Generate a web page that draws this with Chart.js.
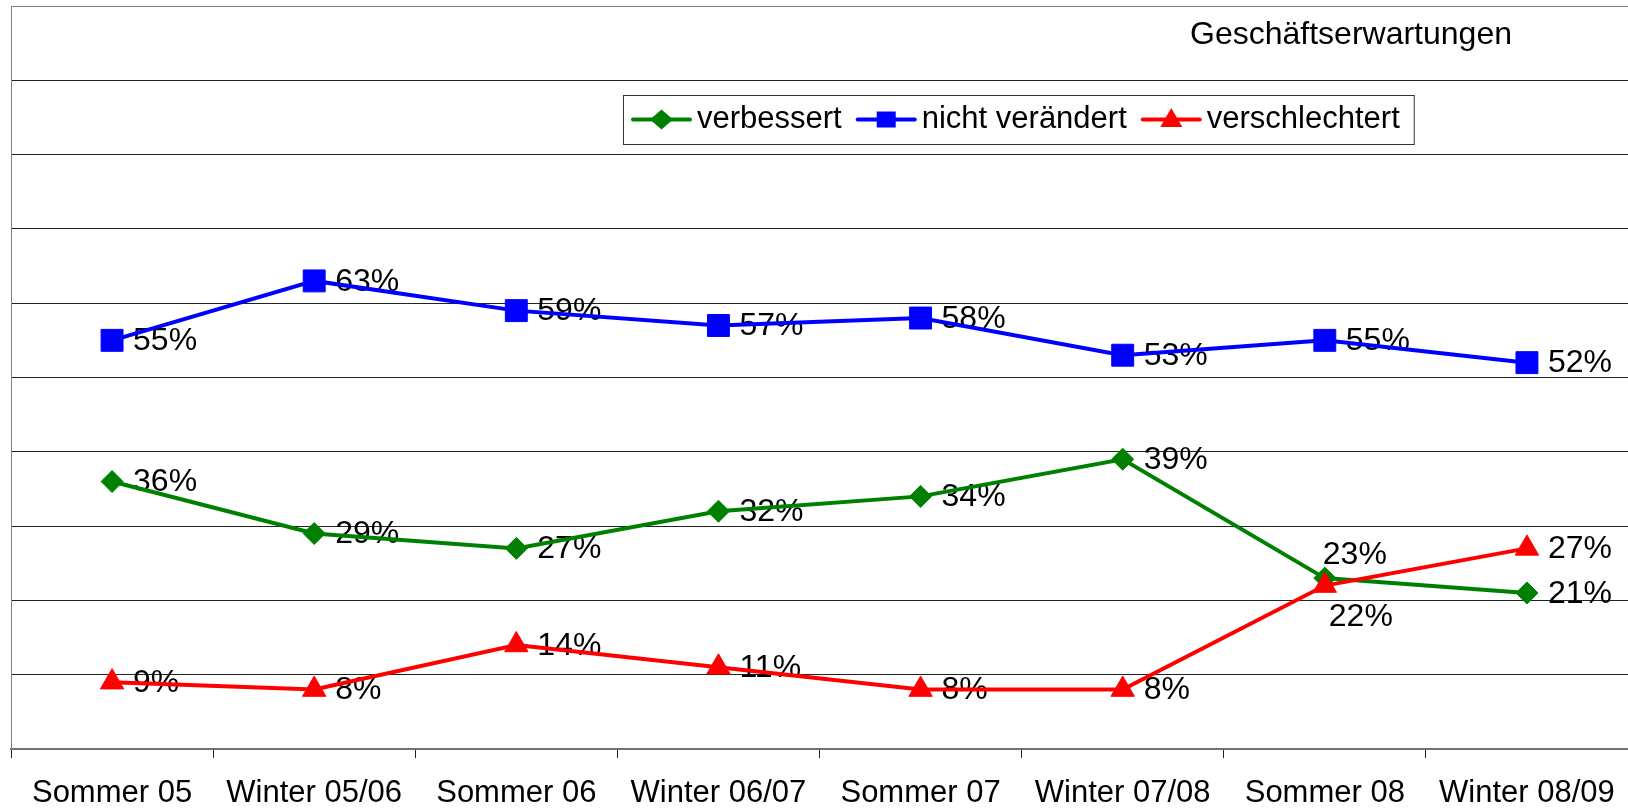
<!DOCTYPE html>
<html>
<head>
<meta charset="utf-8">
<script src="https://cdn.jsdelivr.net/npm/chart.js@4/dist/chart.umd.min.js"></script>
<style>
  html, body { margin: 0; padding: 0; background: #fff; overflow: hidden; }
  canvas { display: block; }
</style>
</head>
<body>
<canvas id="chart" width="1628" height="809"></canvas>
<script>
// chart data
const categories = ['Sommer 05', 'Winter 05/06', 'Sommer 06', 'Winter 06/07', 'Sommer 07', 'Winter 07/08', 'Sommer 08', 'Winter 08/09'];
const verbessert = [36, 29, 27, 32, 34, 39, 23, 21];
const nichtVeraendert = [55, 63, 59, 57, 58, 53, 55, 52];
const verschlechtert = [9, 8, 14, 11, 8, 8, 22, 27];
const seriesNames = ['verbessert', 'nicht verändert', 'verschlechtert'];
const chartTitle = 'Geschäftserwartungen';

const FONT = '"Liberation Sans", Arial, sans-serif';

// label placement: default right of point, a few exceptions where lines cross
const labelShift = { '0:6': { dx: -2, dy: -23 }, '2:6': { dx: 4, dy: 32 } };

function drawMarker(ctx, style, x, y, w, h, color) {
    ctx.fillStyle = color;
    ctx.beginPath();
    if (style === 'rectRot') {
        ctx.moveTo(x, y - h / 2); ctx.lineTo(x + w / 2, y); ctx.lineTo(x, y + h / 2); ctx.lineTo(x - w / 2, y);
    } else if (style === 'triangle') {
        ctx.moveTo(x, y - h * 0.6); ctx.lineTo(x + w / 2, y + h * 0.4); ctx.lineTo(x - w / 2, y + h * 0.4);
    } else {
        ctx.rect(x - w / 2, y - h / 2, w, h);
    }
    ctx.closePath();
    ctx.fill();
}

// title, legend box and the value labels
const overlay = {
    id: 'overlay',
    beforeDatasetsDraw(chart) {
        const ctx = chart.ctx;
        ctx.save();
        ctx.font = '32px ' + FONT;
        ctx.fillStyle = '#000';
        ctx.textBaseline = 'middle';
        ctx.textAlign = 'left';
        chart.data.datasets.forEach((ds, di) => {
            const meta = chart.getDatasetMeta(di);
            meta.data.forEach((pt, i) => {
                const s = labelShift[di + ':' + i] || { dx: 21, dy: 1 };
                ctx.fillText(ds.data[i] + '%', pt.x + s.dx, pt.y + s.dy);
            });
        });
        ctx.restore();
    },
    afterDraw(chart) {
        const ctx = chart.ctx;
        ctx.save();
        // title
        ctx.font = '32px ' + FONT;
        ctx.fillStyle = '#000';
        ctx.textAlign = 'center';
        ctx.textBaseline = 'middle';
        ctx.fillText(chartTitle, 1351, 35);

        // legend
        const legFont = '31px ' + FONT;
        ctx.font = legFont;
        const boxLeft = 623, boxTop = 95, boxH = 49, cy = boxTop + boxH / 2;
        let x = boxLeft + 10;
        const items = chart.data.datasets.map(ds => {
            const item = { ds, x, tw: ctx.measureText(ds.label).width };
            x += 64 + item.tw + 16;
            return item;
        });
        const boxW = x - 16 + 14 - boxLeft;
        ctx.fillStyle = '#fff';
        ctx.fillRect(boxLeft, boxTop, boxW, boxH);
        ctx.strokeStyle = '#333';
        ctx.lineWidth = 1;
        ctx.strokeRect(boxLeft + 0.5, boxTop + 0.5, boxW, boxH);
        const msize = { rectRot: [23, 20], rect: [19, 16], triangle: [22, 19] };
        items.forEach(it => {
            ctx.strokeStyle = it.ds.borderColor;
            ctx.lineWidth = 4;
            ctx.lineCap = 'round';
            ctx.beginPath();
            ctx.moveTo(it.x, cy);
            ctx.lineTo(it.x + 57, cy);
            ctx.stroke();
            const m = msize[it.ds.pointStyle];
            drawMarker(ctx, it.ds.pointStyle, it.x + 28.5, cy, m[0], m[1], it.ds.borderColor);
            ctx.fillStyle = '#000';
            ctx.textAlign = 'left';
            ctx.textBaseline = 'middle';
            ctx.fillText(it.ds.label, it.x + 64, cy);
        });
        ctx.restore();
    }
};

const ctx = document.getElementById('chart').getContext('2d');
const chart = new Chart(ctx, {
    type: 'line',
    data: {
        labels: categories,
        datasets: [
            { label: seriesNames[0], data: verbessert, borderColor: '#008000', backgroundColor: '#008000',
              pointStyle: 'rectRot', pointRadius: 11, order: 2 },
            { label: seriesNames[1], data: nichtVeraendert, borderColor: '#0000FF', backgroundColor: '#0000FF',
              pointStyle: 'rect', pointRadius: 15.5, order: 1 },
            { label: seriesNames[2], data: verschlechtert, borderColor: '#FF0000', backgroundColor: '#FF0000',
              pointStyle: 'triangle', pointRadius: 13.5, order: 0 }
        ].map(ds => Object.assign({ borderWidth: 4, pointBorderWidth: 1, tension: 0, fill: false }, ds))
    },
    options: {
        responsive: false,
        animation: false,
        layout: { autoPadding: false, padding: { left: 11, top: 6, right: -1, bottom: -20 } },
        plugins: { legend: { display: false }, tooltip: { enabled: false } },
        scales: {
            x: {
                offset: true,
                afterFit: s => { s.paddingLeft = 0; s.paddingRight = 0; },
                grid: { offset: true, drawOnChartArea: false, color: '#222', tickLength: 9 },
                border: { color: '#707070', width: 2 },
                ticks: { color: '#000', font: { family: FONT, size: 31, lineHeight: 1 }, padding: 20, maxRotation: 0, autoSkip: false }
            },
            y: {
                min: 0,
                max: 100,
                ticks: { display: false, stepSize: 10 },
                grid: { color: c => (c.tick && c.tick.value === 100 ? '#808080' : '#222'), lineWidth: 1, drawTicks: false },
                border: { color: '#808080', width: 1 }
            }
        }
    },
    plugins: [overlay]
});
</script>
</body>
</html>
